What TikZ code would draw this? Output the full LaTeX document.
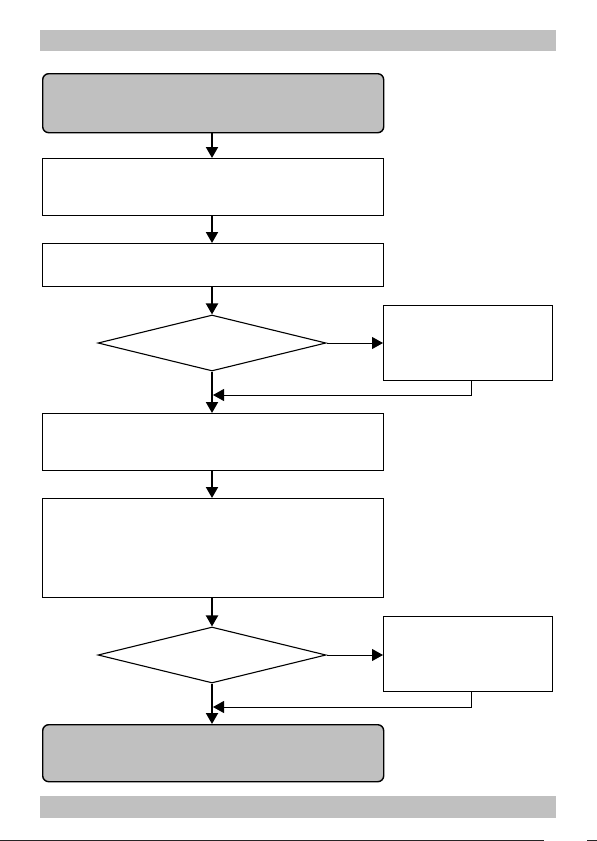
\documentclass[tikz,border=0pt]{standalone}
\usetikzlibrary{shapes.geometric,arrows.meta,calc}
\definecolor{boxgray}{HTML}{C0C0C0}
\begin{document}
\begin{tikzpicture}[x=1pt,y=-1pt,
  bar/.style={fill=boxgray,draw=none},
  grayround/.style={draw=black,line width=1.4pt,fill=boxgray,rounded corners=6pt,rectangle,inner sep=0pt,anchor=north west},
  plainbox/.style={draw=black,line width=1.4pt,fill=white,rectangle,inner sep=0pt,anchor=north west},
  decision/.style={draw=black,line width=1.1pt,diamond,inner sep=0pt,minimum width=228pt,minimum height=56pt},
  tip/.style={-{Triangle[width=12pt,length=11pt]}},
  thickarrow/.style={tip,line width=2pt},
  thinarrow/.style={tip,line width=1pt},
  thinline/.style={line width=1pt}]
\useasboundingbox (0,0) rectangle (597,841);
\fill[white] (0,0) rectangle (597,841);
% bars
\node[bar,rectangle,inner sep=0pt,minimum width=516pt,minimum height=21pt,anchor=north west] (topbar) at (40,30) {};
\node[bar,rectangle,inner sep=0pt,minimum width=516pt,minimum height=22pt,anchor=north west] (botbar) at (40,796) {};
% boxes
\node[grayround,minimum width=341pt,minimum height=59pt] (b1) at (42,73) {};
\node[plainbox,minimum width=341pt,minimum height=57pt] (b2) at (42,158) {};
\node[plainbox,minimum width=341pt,minimum height=43pt] (b3) at (42,243) {};
\node[decision] (d1) at (212,343) {};
\node[plainbox,minimum width=169pt,minimum height=75pt] (r1) at (383,305) {};
\node[plainbox,minimum width=341pt,minimum height=57pt] (b4) at (42,413) {};
\node[plainbox,minimum width=341pt,minimum height=99pt] (b5) at (42,498) {};
\node[decision] (d2) at (212,655) {};
\node[plainbox,minimum width=169pt,minimum height=75pt] (r2) at (383,616) {};
\node[grayround,minimum width=341pt,minimum height=57pt] (b6) at (42,724) {};
% connectors
\draw[thickarrow] (b1.south -| d1.north) -- (b2.north -| d1.north);
\draw[thickarrow] (b2.south -| d1.north) -- (b3.north -| d1.north);
\draw[thickarrow] (b3.south -| d1.north) -- (d1.north);
\draw[thinarrow] (d1.east) -- (d1.east -| r1.west);
\draw[thickarrow] (d1.south) -- (b4.north -| d1.south);
\coordinate (j1) at (213,395);
\draw[thinarrow] ([xshift=3pt]r1.south) |- (j1);
\draw[thickarrow] (b4.south -| d1.north) -- (b5.north -| d1.north);
\draw[thickarrow] (b5.south -| d2.north) -- (d2.north);
\draw[thinarrow] (d2.east) -- (d2.east -| r2.west);
\draw[thickarrow] (d2.south) -- (b6.north -| d2.south);
\coordinate (j2) at (213,707);
\draw[thinarrow] ([xshift=3pt]r2.south) |- (j2);
% bottom edge line
\coordinate (e1) at (0,840);
\coordinate (e2) at (544,840);
\coordinate (e3) at (587,840);
\coordinate (e4) at (597,840);
\draw[thinline,black!85] (e1) -- (e2);
\draw[thinline,black!85] (e3) -- (e4) -- ++(0,-6);
\end{tikzpicture}
\end{document}
